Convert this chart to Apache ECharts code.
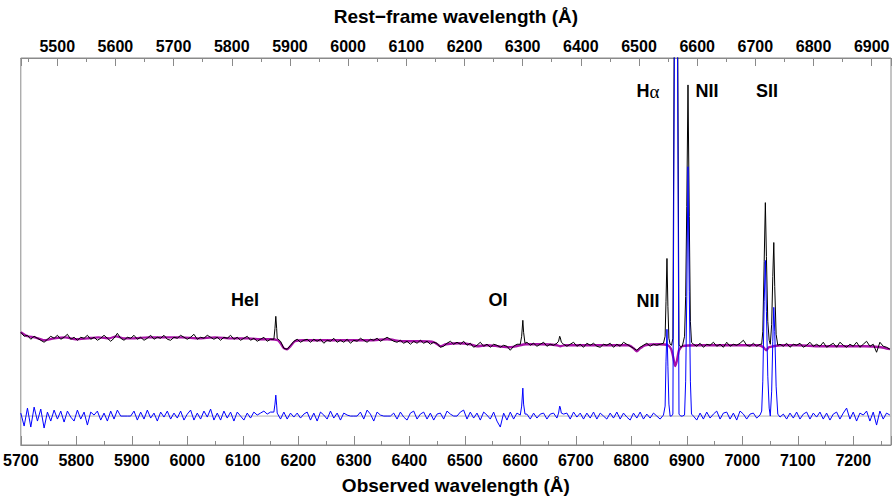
<!DOCTYPE html>
<html><head><meta charset="utf-8">
<script src="https://cdn.jsdelivr.net/npm/echarts@6/dist/echarts.min.js"></script>
<style>html,body{margin:0;padding:0;background:#fff}#c{width:894px;height:500px}</style>
</head><body><div id="c"></div>
<script>
// Observed wavelength grid (Angstrom)
const wave = [
5700,5706,5712,5718,5724,5730,5736,5742,5748,5754,
5760,5766,5772,5778,5784,5790,5796,5802,5808,5814,
5820,5826,5832,5838,5844,5850,5856,5862,5868,5874,
5880,5886,5892,5898,5904,5910,5916,5922,5928,5934,
5940,5946,5952,5958,5964,5970,5976,5982,5988,5994,
6000,6006,6012,6018,6024,6030,6036,6042,6048,6054,
6060,6066,6072,6078,6084,6090,6096,6102,6108,6114,
6120,6126,6132,6138,6144,6150,
6156,6158,6159.5,6161,6162,
6168,6174,6180,6186,6192,6198,6204,6210,
6216,6222,6228,6234,6240,6246,6252,6258,6264,6270,
6276,6282,6288,6294,6300,6306,6312,6318,6324,6330,
6336,6342,6348,6354,6360,6366,6372,6378,6384,6390,
6396,6402,6408,6414,6420,6426,6432,6438,6444,6450,
6456,6462,6468,6474,6480,6486,6492,6498,6504,6510,
6516,6522,6528,6534,6540,6546,6552,6558,6564,6570,
6576,6582,6588,6594,6600,
6602.5,6604.6,6606,6608.5,
6612,6618,6624,6630,6636,6642,6648,6654,6660,6666,
6669,6671,6672,6674,
6678,6684,6690,6696,6702,6708,6714,6720,6726,6732,
6738,6744,6750,6756,6762,6768,6774,6780,6786,6792,
6798,6804,6810,6816,6822,6828,6834,6840,6846,6852,6858,
6861,6862.6,6864.3,6866,6867.8,6870,6872.5,6875,6877.5,6880.3,6883.5,6886,6889,6892,6896,6898,6900,6902.2,6904.5,6906.5,6908.5,
6912,6918,6924,6930,6936,6942,6948,6954,6960,6966,
6972,6978,6984,6990,6996,7002,7008,7014,7020,7026,7032,
7035,7037,7039.5,7041.6,7043.5,7046,7048.5,7050.5,7053,7055,7056.8,7058.5,7061,7064,
7068,
7074,7080,7086,7092,7098,7104,7110,7116,7122,7128,
7134,7140,7146,7152,7158,7164,7170,7176,7182,7188,
7194,7200,7206,7212,7218,7224,7230,7236,7242,7248,
7254,7260,7266
];
// Observed spectrum (black)
const fluxObs = [
0.84,0.80,0.81,0.77,0.80,0.78,0.76,0.74,0.77,0.80,
0.78,0.81,0.77,0.79,0.82,0.77,0.79,0.76,0.79,0.78,
0.81,0.77,0.79,0.76,0.78,0.81,0.78,0.75,0.78,0.83,
0.78,0.76,0.79,0.78,0.81,0.77,0.79,0.76,0.78,0.81,
0.77,0.79,0.78,0.81,0.77,0.76,0.79,0.78,0.81,0.79,
0.77,0.79,0.82,0.77,0.79,0.78,0.81,0.79,0.77,0.79,
0.76,0.79,0.78,0.81,0.77,0.79,0.76,0.78,0.80,0.76,
0.78,0.75,0.77,0.79,0.75,0.77,
0.77,0.88,1.00,0.88,0.78,
0.75,0.68,0.67,0.71,0.75,0.77,0.74,0.76,
0.77,0.74,0.77,0.75,0.77,0.73,0.76,0.75,0.78,0.74,
0.76,0.74,0.77,0.73,0.76,0.75,0.78,0.76,0.74,0.77,
0.76,0.78,0.75,0.77,0.79,0.77,0.75,0.74,0.76,0.73,
0.75,0.72,0.75,0.73,0.76,0.73,0.75,0.72,0.74,0.73,
0.69,0.70,0.73,0.75,0.72,0.74,0.72,0.75,0.71,0.73,
0.69,0.71,0.74,0.70,0.72,0.69,0.72,0.71,0.69,0.71,
0.70,0.66,0.70,0.72,0.72,
0.80,0.96,0.84,0.73,
0.74,0.71,0.73,0.70,0.72,0.74,0.70,0.72,0.71,0.73,
0.75,0.80,0.79,0.74,
0.72,0.70,0.72,0.74,0.70,0.72,0.69,0.73,0.71,0.73,
0.70,0.69,0.72,0.71,0.73,0.69,0.72,0.70,0.74,0.72,
0.70,0.68,0.66,0.69,0.71,0.73,0.70,0.72,0.71,0.72,0.73,
0.80,1.15,1.58,1.10,0.78,0.72,0.71,0.78,4.0,9.3,4.0,0.72,0.69,0.70,0.80,1.2,2.1,3.32,2.0,0.95,0.74,
0.72,0.70,0.73,0.69,0.72,0.71,0.74,0.70,0.72,0.69,
0.74,0.70,0.72,0.71,0.73,0.76,0.71,0.70,0.73,0.70,0.72,
0.72,0.85,1.55,2.14,1.60,0.95,0.76,0.72,0.92,1.40,1.74,1.30,0.82,0.71,
0.72,
0.70,0.73,0.69,0.72,0.71,0.73,0.69,0.71,0.74,0.70,
0.72,0.70,0.74,0.69,0.71,0.73,0.69,0.74,0.71,0.69,
0.72,0.70,0.74,0.69,0.72,0.75,0.70,0.72,0.64,0.74,
0.70,0.69,0.67
];
// Emission-line residual (blue)
const fluxResid = [
0.03,-0.10,0.08,-0.11,0.09,-0.05,0.07,-0.12,0.04,-0.05,
0.06,-0.03,0.05,-0.06,0.05,-0.01,-0.05,0.06,-0.03,0.04,
-0.09,0.04,0.01,0.05,-0.04,0.03,-0.05,0.05,-0.03,0.06,
0,0,0,0,0.05,-0.04,0.04,-0.03,0.06,-0.02,
0.03,-0.05,0.04,-0.01,0.05,-0.03,0.03,-0.02,0.05,-0.04,
0.02,0.06,-0.04,0.03,-0.03,0.05,-0.01,0.07,-0.04,0.03,
-0.04,0.05,-0.02,0.04,-0.05,0.04,0.00,-0.04,0.03,-0.02,
0.04,0.01,0.03,0.05,0.02,0.04,
0.04,0.12,0.21,0.11,0.03,
-0.03,0.04,-0.03,0.03,-0.01,0.03,-0.02,0.02,
0.04,-0.04,0.03,-0.05,0.04,0.01,-0.03,0.05,-0.02,0.03,
-0.04,0.03,0.01,0,0,0,0.04,-0.03,0.06,0.02,
-0.05,0.04,0.01,0,0,0,0.03,-0.03,0.04,-0.01,
-0.04,0.03,0.05,-0.03,0.02,0.04,-0.03,0.03,-0.04,0.02,
0.03,-0.03,0.05,0.02,0,0,0.04,0.06,-0.03,0.04,
-0.02,0.03,-0.04,0.04,0.01,-0.03,0.04,-0.05,-0.11,0.03,
-0.04,0.04,-0.03,0.03,0.01,
0.10,0.28,0.12,0.02,
0.02,-0.03,0.03,-0.02,0.02,0.03,-0.03,0.02,0.03,-0.02,
0.03,0.10,0.09,0.03,
0.02,0.03,-0.03,0.04,-0.01,0.03,-0.03,0.03,-0.02,0.04,
-0.03,0.03,0.00,-0.03,0.03,-0.02,0.04,-0.03,0.03,-0.01,
-0.04,0.03,-0.02,0.04,-0.03,0.02,-0.02,0.03,0.00,-0.03,0.01,
0.10,0.55,0.87,0.50,0.12,0.0,0.0,0.02,3.5,8.5,3.5,0.02,0.0,0.0,0.01,0.35,1.2,2.50,1.25,0.35,0.02,
0.0,-0.04,0.03,-0.03,0.04,-0.02,0.02,0.05,-0.03,0.03,
0.04,-0.03,0.03,-0.04,0.05,0.02,-0.03,0.02,0.03,-0.02,0.01,
0.05,0.35,1.15,1.56,1.05,0.40,0.08,0.0,0.25,0.75,1.09,0.85,0.30,0.02,
-0.01,
0.02,-0.03,0.03,-0.02,0.04,-0.03,0.02,0.04,-0.03,0.03,
-0.01,0.04,-0.03,0.03,-0.04,0.02,0.04,-0.03,0.03,0.08,
-0.03,0.04,-0.05,0.03,0.01,0.05,-0.05,0.04,-0.09,0.05,
-0.03,0.03,0.01
];
// Stellar model (magenta)
const waveModel = [5700,5712,5725,5742,5760,5780,5800,5820,5840,5860,5872,5885,5900,5930,5960,5990,6020,6050,6080,6110,6135,6150,6163,6168,6174,6180,6186,6194,6210,6240,6270,6300,6330,6360,6390,6420,6445,6456,6466,6490,6510,6522,6540,6560,6580,6592,6610,6640,6666,6672,6680,6710,6740,6770,6795,6804,6810,6816,6825,6850,6866,6872,6876,6879,6882,6886,6892,6920,6960,7000,7030,7038,7043,7048,7056,7070,7100,7140,7180,7220,7250,7266];
const fluxModel = [0.84,0.80,0.79,0.76,0.78,0.79,0.77,0.78,0.79,0.78,0.80,0.78,0.78,0.79,0.79,0.79,0.78,0.79,0.78,0.78,0.77,0.77,0.76,0.73,0.68,0.67,0.70,0.75,0.76,0.76,0.76,0.76,0.76,0.77,0.75,0.75,0.74,0.70,0.72,0.73,0.72,0.70,0.71,0.70,0.69,0.70,0.72,0.72,0.71,0.70,0.71,0.71,0.71,0.71,0.71,0.68,0.65,0.68,0.71,0.72,0.71,0.67,0.58,0.50,0.55,0.66,0.70,0.71,0.71,0.71,0.71,0.69,0.66,0.69,0.70,0.71,0.71,0.70,0.70,0.70,0.69,0.67];
const lineNames = ['H\u03b1','NII','SII','NII','HeI','OI'];

const Z = 0.0483;
const OBS_MIN = 5700, OBS_MAX = 7268;
const FONT = "'Liberation Sans', Arial, Helvetica, sans-serif";
const zip = (xs, ys) => xs.map((x, i) => [x, ys[i]]);
const fmt = v => (Math.abs(v - Math.round(v / 100) * 100) < 1e-6 ? String(Math.round(v)) : '');
const GREY = '#8a8a8a';

const chart = echarts.init(document.getElementById('c'), null, {renderer: 'svg'});
const lbl = {fontSize: 16, fontWeight: 'bold', color: '#000', fontFamily: FONT, formatter: fmt};
const nameStyle = {fontSize: 19, fontWeight: 'bold', color: '#000', fontFamily: FONT};
const txt = (t, x, y) => ({type: 'text', x: x, y: y, style: {text: t, align: 'center', verticalAlign: 'middle', fontSize: 18, fontWeight: 'bold', fontFamily: FONT, fill: '#000'}});

chart.setOption({
  animation: false,
  backgroundColor: '#fff',
  grid: {left: 17, right: 3, top: 58, bottom: 54, show: true, borderColor: GREY, borderWidth: 1, containLabel: false},
  xAxis: [
    {type: 'value', position: 'bottom', min: OBS_MIN, max: OBS_MAX, interval: 100,
     axisLine: {onZero: false, lineStyle: {color: GREY}}, axisTick: {inside: true, length: 9, lineStyle: {color: GREY}},
     axisLabel: Object.assign({margin: 7}, lbl), splitLine: {show: false},
     name: 'Observed wavelength (\u00c5)', nameLocation: 'middle', nameGap: 31, nameTextStyle: nameStyle},
    {type: 'value', position: 'top', min: OBS_MIN / (1 + Z), max: OBS_MAX / (1 + Z), splitNumber: 15,
     axisLine: {onZero: false, lineStyle: {color: GREY}}, axisTick: {inside: true, length: 8, lineStyle: {color: GREY}},
     axisLabel: Object.assign({margin: 4}, lbl), splitLine: {show: false},
     name: 'Rest\u2212frame wavelength (\u00c5)', nameLocation: 'middle', nameGap: 32, nameTextStyle: nameStyle},
    {type: 'value', position: 'bottom', min: OBS_MIN, max: OBS_MAX, interval: 50,
     axisLine: {onZero: false, show: false}, axisTick: {inside: true, length: 4, lineStyle: {color: GREY}},
     axisLabel: {show: false}, splitLine: {show: false}},
    {type: 'value', position: 'top', min: OBS_MIN / (1 + Z), max: OBS_MAX / (1 + Z), splitNumber: 30,
     axisLine: {onZero: false, show: false}, axisTick: {inside: true, length: 4, lineStyle: {color: GREY}},
     axisLabel: {show: false}, splitLine: {show: false}}
  ],
  yAxis: {type: 'value', min: -0.29, max: 3.59, axisLine: {show: false, onZero: false}, axisTick: {show: false},
          axisLabel: {show: false}, splitLine: {show: false}},
  series: [
    {name: 'zero', type: 'line', data: [[OBS_MIN, 0], [OBS_MAX, 0]], symbol: 'none', silent: true,
     lineStyle: {color: '#b4b4b4', width: 1}},
    {name: 'model', type: 'line', data: zip(waveModel, fluxModel), symbol: 'none', smooth: 0.2,
     lineStyle: {color: '#a812a8', width: 2.3}},
    {name: 'observed', type: 'line', data: zip(wave, fluxObs), symbol: 'none',
     lineStyle: {color: '#000', width: 1}},
    {name: 'residual', type: 'line', data: zip(wave, fluxResid), symbol: 'none',
     lineStyle: {color: '#0000ff', width: 1}}
  ],
  graphic: [
    {type: 'text', x: 648, y: 91, style: {text: '{h|H}{a|\u03b1}', align: 'center', verticalAlign: 'middle',
      rich: {h: {fontSize: 18, fontWeight: 'bold', fontFamily: FONT, fill: '#000'},
             a: {fontSize: 19, fontWeight: 'normal', fontFamily: "'Liberation Serif', serif", fill: '#000'}}}},
    txt(lineNames[1], 707, 91),
    txt(lineNames[2], 767, 91),
    txt(lineNames[3], 648, 301),
    txt(lineNames[4], 245, 300),
    txt(lineNames[5], 498, 300)
  ]
});
</script></body></html>
